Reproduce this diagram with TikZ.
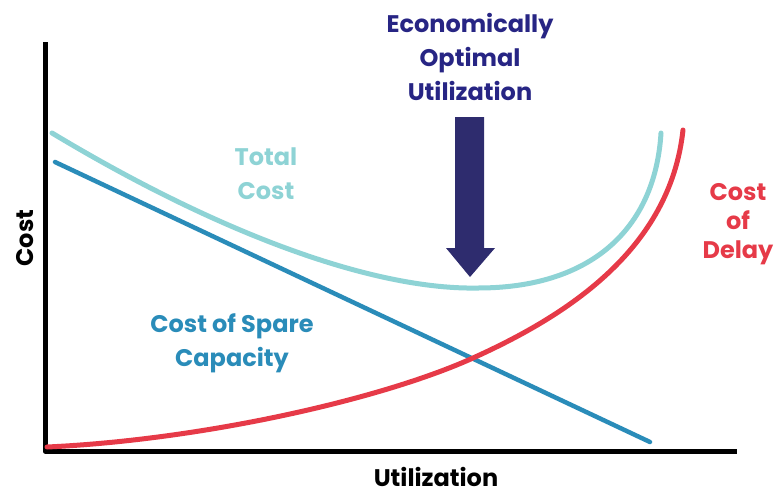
\documentclass[tikz,border=0pt]{standalone}
\usepackage{fontspec}
\setmainfont{Poppins}
\usepackage{tikz}
\usetikzlibrary{positioning}
\definecolor{navy}{HTML}{2E2C6E}
\definecolor{tealc}{HTML}{8ED3D5}
\definecolor{bluec}{HTML}{2A8CB9}
\definecolor{redc}{HTML}{E63A48}
\tikzset{
  lbl/.style={font=\fontsize{24}{34}\selectfont\bfseries, align=center, inner sep=0pt},
  curve/.style={line width=5pt, line cap=round}
}
\begin{document}
\begin{tikzpicture}[x=1pt, y=-1pt, line join = round, line cap = round]
                \useasboundingbox (0,0) rectangle (776,493);
                \coordinate (o) at (45,451);
                \coordinate (ytop) at (45,42);
                \coordinate (xend) at (737,451);
                \draw[line width=5pt, line cap=butt] (ytop) -- (o) -- (xend);
                \node[lbl, rotate=90] (costaxis) at (25,238) {Cost};
                \node[lbl, anchor=base] (utilaxis) at (436,486) {Utilization};
                % spare capacity
                \coordinate (s1) at (55,162);
                \coordinate (s2) at (650,442);
                \draw[curve, bluec, line width=4.5pt] (s1) -- (s2);
                % delay
                \coordinate (d1) at (47,447);
                \coordinate (dx) at (473,358);
                \coordinate (d2) at (683,130);
                \draw[curve, redc] (d1) .. controls (200,440) and (380,400) .. (dx) .. controls (566,316) and (670,250) .. (d2);
                % total
                \coordinate (t1) at (52,133);
                \coordinate (tmin) at (478,288);
                \coordinate (t2) at (661,133);
                \draw[curve, tealc] (t1) .. controls (230,240) and (380,290) .. (tmin) .. controls (590,288) and (655,230) .. (t2);
                % arrow
                \coordinate (atip) at (470,277);
                \fill[navy] (455,117) -- (484,117) -- (484,248) -- (495,248) -- (atip) -- (446,248) -- (455,248) -- cycle;
                \node[lbl, navy!85!blue, text width=220pt] (optimal) at (470,57) {Economically\\Optimal\\Utilization};
                \node[lbl, tealc] (total) at (266,174) {Total\\Cost};
                \node[lbl, bluec] (spare) at (232,343) {Cost of Spare\\Capacity};
                \node[lbl, redc, font=\fontsize{24}{29}\selectfont\bfseries] (delay) at (738,224) {Cost\\of\\Delay};
\end{tikzpicture}
\end{document}
